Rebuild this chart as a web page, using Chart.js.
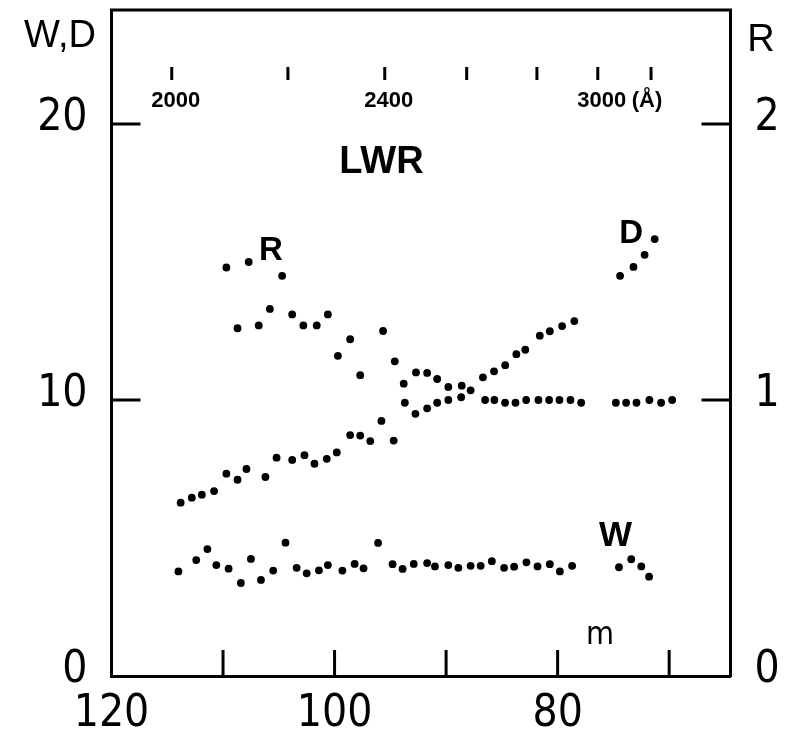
<!DOCTYPE html>
<html>
<head>
<meta charset="utf-8">
<title>LWR</title>
<script src="https://cdn.jsdelivr.net/npm/chart.js@4.4.0/dist/chart.umd.min.js"></script>
<style>
  html, body { margin: 0; padding: 0; background: #fff; }
  canvas { display: block; }
</style>
</head>
<body>
<canvas id="lwrChart" width="795" height="738"></canvas>
<script>
// W (left axis) against echelle order m
const wOrders = [114.0, 112.4, 111.4, 110.6, 109.5, 108.4, 107.5, 106.6, 105.5, 104.4,
                 103.4, 102.5, 101.4, 100.6, 99.3, 98.2, 97.4, 96.1, 94.8, 93.9,
                 92.9, 91.7, 91.0, 89.8, 88.9, 87.8, 86.9, 85.9, 84.8, 83.9,
                 82.8, 81.8, 80.7, 79.8, 78.7, 74.5, 73.4, 72.5, 71.8];
const wValues = [3.79, 4.20, 4.60, 4.02, 3.89, 3.37, 4.24, 3.48, 3.82, 4.83,
                 3.92, 3.72, 3.83, 4.02, 3.82, 4.06, 3.90, 4.82, 4.05, 3.88,
                 4.06, 4.09, 3.97, 4.02, 3.92, 3.99, 3.99, 4.16, 3.92, 3.96,
                 4.12, 3.97, 4.05, 3.79, 3.99, 3.94, 4.23, 3.97, 3.60];

// D (left axis)
const dOrders = [113.8, 112.8, 111.9, 110.8, 109.7, 108.7, 107.9, 106.2, 105.2, 103.8,
                 102.7, 101.8, 100.7, 99.8, 98.6, 97.7, 96.8, 95.8, 94.7, 93.8,
                 92.7, 91.7, 90.8, 89.8, 88.6, 87.8, 86.7, 85.7, 84.7, 83.7,
                 82.9, 81.6, 80.7, 79.6, 78.5, 74.4, 73.2, 72.2, 71.3];
const dValues = [6.28, 6.46, 6.57, 6.70, 7.33, 7.11, 7.50, 7.21, 7.91, 7.83,
                 8.00, 7.69, 7.87, 8.10, 8.73, 8.71, 8.51, 9.24, 8.53, 10.59,
                 11.00, 10.98, 10.76, 10.47, 10.52, 10.35, 10.82, 11.04, 11.26, 11.66,
                 11.82, 12.33, 12.49, 12.68, 12.86, 14.50, 14.82, 15.26, 15.83];

// R (right axis)
const rOrders = [109.7, 107.7, 104.7, 108.7, 106.8, 105.8, 103.8, 102.8, 101.6, 100.6,
                 99.7, 98.6, 97.7, 95.65, 94.6, 93.7, 92.75, 91.7, 90.8, 89.8,
                 88.65, 86.5, 85.67, 84.71, 83.78, 82.82, 81.72, 80.76, 79.84, 78.85,
                 77.89, 74.78, 73.86, 72.93, 71.77, 70.72, 69.73];
const rValues = [1.48, 1.50, 1.45, 1.26, 1.27, 1.33, 1.31, 1.27, 1.27, 1.31,
                 1.16, 1.22, 1.09, 1.25, 1.14, 0.99, 0.95, 0.97, 0.99, 1.00,
                 1.01, 1.00, 1.00, 0.99, 0.99, 1.00, 1.00, 1.00, 1.00, 1.00,
                 0.99, 0.99, 0.99, 0.99, 1.00, 0.99, 1.00];

// axis ticks
const orderTicks = [120, 110, 100, 90, 80, 70];
const orderLabels = ['120', '', '100', '', '80', ''];
const wdTicks = [0, 10, 20];
const rTicks = [0, 1, 2];

// wavelength scale on top: m * lambda = const
const echelleConst = 229200;
const waveTicks = [2000, 2200, 2400, 2600, 2800, 3000, 3200];
const waveLabels = ['2000', '', '2400', '', '', '3000', '(Å)'];

const NARROW = "'Liberation Sans Narrow', 'DejaVu Sans Condensed', sans-serif";
const SANS = "'Liberation Sans', Arial, sans-serif";

const toPoints = (xs, ys) => xs.map((x, i) => ({ x: x, y: ys[i] }));

const dotStyle = {
  showLine: false,
  pointRadius: 3.9,
  pointBackgroundColor: '#000',
  pointBorderWidth: 0,
  borderColor: '#000',
  backgroundColor: '#000'
};

// fixed box sizes so the plot frame sits where it should
const fixBox = (w, h) => s => {
  if (w !== null) s.width = w;
  if (h !== null) s.height = h;
  s.paddingTop = 0;
  s.paddingBottom = 0;
  s.paddingLeft = 0;
  s.paddingRight = 0;
};

// frame top, inward ticks, wavelength scale and the text labels
const axisDecor = {
  id: 'axisDecor',
  afterDraw(chart) {
    const { ctx, chartArea: a, scales } = chart;
    const x = scales.x, y = scales.y, r = scales.yR;
    ctx.save();
    ctx.strokeStyle = '#000';
    ctx.lineWidth = 3;
    ctx.beginPath();
    ctx.moveTo(a.left - 1.5, a.top);
    ctx.lineTo(a.right + 1.5, a.top);
    [10, 20].forEach(v => {
      const py = y.getPixelForValue(v);
      ctx.moveTo(a.left, py);
      ctx.lineTo(a.left + 29, py);
    });
    [1, 2].forEach(v => {
      const py = r.getPixelForValue(v);
      ctx.moveTo(a.right, py);
      ctx.lineTo(a.right - 29, py);
    });
    orderTicks.slice(1).forEach(v => {
      const px = x.getPixelForValue(v);
      ctx.moveTo(px, a.bottom);
      ctx.lineTo(px, a.bottom - 26);
    });
    waveTicks.forEach(l => {
      const px = x.getPixelForValue(echelleConst / l);
      ctx.moveTo(px, a.top + 57);
      ctx.lineTo(px, a.top + 70);
    });
    ctx.stroke();

    ctx.fillStyle = '#000';
    ctx.textAlign = 'center';
    ctx.textBaseline = 'middle';
    ctx.font = 'bold 22px ' + SANS;
    waveTicks.forEach((l, i) => {
      if (!waveLabels[i]) return;
      // the unit sits right after "3000"
      const shift = waveLabels[i] === '(Å)' ? -4 : 4;
      ctx.fillText(waveLabels[i], x.getPixelForValue(echelleConst / l) + shift, a.top + 91);
    });

    // axis titles
    ctx.font = '38px ' + SANS;
    ctx.fillText('W,D', 60, 37);
    ctx.fillText('R', 761, 41);

    // curve names
    const note = (text, m, v, font) => {
      ctx.font = font;
      ctx.fillText(text, x.getPixelForValue(m), y.getPixelForValue(v));
    };
    note('LWR', 95.8, 18.6, 'bold 38px ' + SANS);
    note('R', 105.7, 15.4, 'bold 33px ' + SANS);
    note('D', 73.4, 16.0, 'bold 33px ' + SANS);
    note('W', 74.8, 5.07, 'bold 35px ' + SANS);
    note('m', 76.2, 1.45, '32px ' + NARROW);
    ctx.restore();
  }
};

const tickFont = { family: NARROW, size: 44 };

new Chart(document.getElementById('lwrChart'), {
  type: 'scatter',
  data: {
    datasets: [
      Object.assign({ label: 'W', data: toPoints(wOrders, wValues), yAxisID: 'y' }, dotStyle),
      Object.assign({ label: 'D', data: toPoints(dOrders, dValues), yAxisID: 'y' }, dotStyle),
      Object.assign({ label: 'R', data: toPoints(rOrders, rValues), yAxisID: 'yR' }, dotStyle)
    ]
  },
  options: {
    responsive: false,
    animation: false,
    devicePixelRatio: 1,
    layout: { padding: { top: 10, left: 0, right: 0, bottom: 0 } },
    plugins: { legend: { display: false }, tooltip: { enabled: false } },
    scales: {
      x: {
        type: 'linear',
        reverse: true,
        min: 64.5,
        max: 120,
        afterBuildTicks: s => { s.ticks = orderTicks.map(v => ({ value: v })); },
        afterFit: fixBox(null, 62),
        grid: { display: false, drawTicks: false },
        border: { display: true, color: '#000', width: 3 },
        ticks: {
          color: '#000',
          font: tickFont,
          padding: 12,
          maxRotation: 0,
          autoSkip: false,
          callback: v => orderLabels[orderTicks.indexOf(v)]
        }
      },
      y: {
        type: 'linear',
        position: 'left',
        min: 0,
        max: 24.13,
        afterBuildTicks: s => { s.ticks = wdTicks.map(v => ({ value: v })); },
        afterFit: fixBox(111.5, null),
        grid: { display: false, drawTicks: false },
        border: { display: true, color: '#000', width: 3 },
        ticks: { color: '#000', font: tickFont, padding: 24, labelOffset: -5 }
      },
      yR: {
        type: 'linear',
        axis: 'y',
        position: 'right',
        min: 0,
        max: 2.413,
        afterBuildTicks: s => { s.ticks = rTicks.map(v => ({ value: v })); },
        afterFit: fixBox(64.5, null),
        grid: { display: false, drawTicks: false },
        border: { display: true, color: '#000', width: 3 },
        ticks: { color: '#000', font: tickFont, padding: 24, labelOffset: -5 }
      }
    }
  },
  plugins: [axisDecor]
});
</script>
</body>
</html>
